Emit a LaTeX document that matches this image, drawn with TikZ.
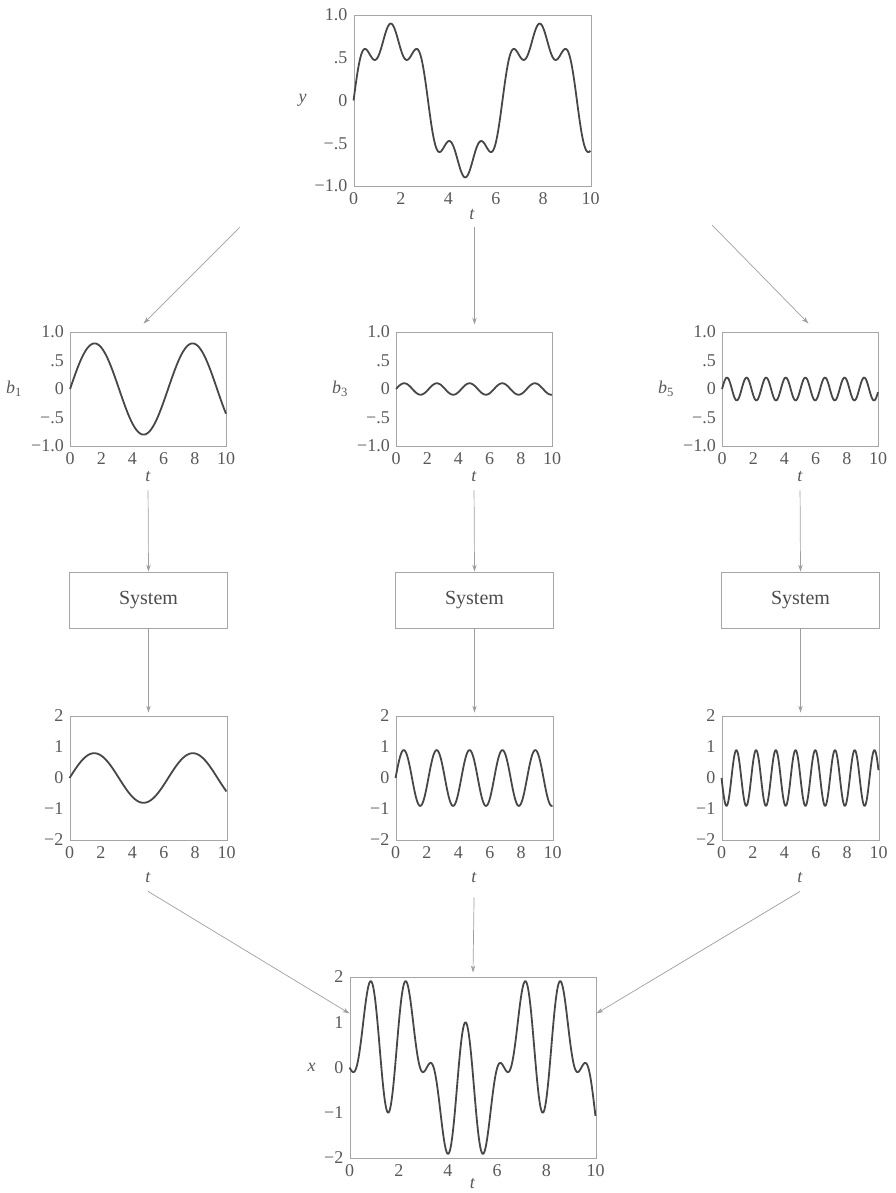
\documentclass[tikz,border=0pt]{standalone}
\usepackage{fontspec}
\setmainfont{Liberation Serif}
\usetikzlibrary{arrows.meta, positioning}

\begin{document}
\begin{tikzpicture}[x=1pt, y=-1pt,
  plotbox/.style={draw=gray!70, line width=0.9pt, inner sep=0pt},
  sysbox/.style={draw=gray!70, line width=0.9pt, minimum width=158pt, minimum height=56pt, text=black!70, font=\fontsize{20}{22}\selectfont},
  curve/.style={black!72, line width=1.8pt, line join=round},
  ticklbl/.style={text=black!65, inner sep=2pt, font=\fontsize{18}{20}\selectfont},
  conn/.style={-{Stealth[length=7pt, width=4.5pt]}, gray!75, line width=0.7pt}]

\useasboundingbox (0,0) rectangle (895,1193);

% input signal y
\node[plotbox, minimum width=237pt, minimum height=171pt] (pY) at (472.5,100.5) {};
\begin{scope}[shift={(pY.west)}, x=23.7pt, y=85.5pt]
  \draw[curve] plot[domain=0:10, samples=250] (\x,{0.8*sin(\x r)+0.1*sin(3*\x r)+0.2*sin(5*\x r)});
  \foreach \v in {0,2,...,10} \node[ticklbl, anchor=north, yshift=-4pt] at (\v,-1) {\v};
  \foreach \v/\s in {1/1.0, 0.5/.5, 0/0, -0.5/−.5, -1/−1.0} \node[ticklbl, anchor=east, xshift=-4pt] at (0,\v) {\s};
  \node[ticklbl] (tY) at (5,-1) [yshift=-29pt] {\textit{t}};
  \node[ticklbl] (lY) at (0,0) [xshift=-51pt] {\textit{y}};
\end{scope}

% harmonics b1, b3, b5
\foreach \k/\ampl/\cx in {1/0.8/148.5, 3/0.1/474.5, 5/0.2/800.5} {
  \node[plotbox, minimum width=156pt, minimum height=114pt] (pB\k) at (\cx,389) {};
  \begin{scope}[shift={(pB\k.west)}, x=15.6pt, y=57pt]
    \draw[curve] plot[domain=0:10, samples=250] (\x,{\ampl*sin(\k*\x r)});
    \foreach \v in {0,2,...,10} \node[ticklbl, anchor=north, yshift=-4pt] at (\v,-1) {\v};
    \foreach \v/\s in {1/1.0, 0.5/.5, 0/0, -0.5/−.5, -1/−1.0} \node[ticklbl, anchor=east, xshift=-4pt] at (0,\v) {\s};
    \node[ticklbl] (tB\k) at (5,-1) [yshift=-31pt] {\textit{t}};
    \node[ticklbl] (lB\k) at (0,0) [xshift=-56pt] {\textit{b}\textsubscript{\k}};
  \end{scope}
}

% systems
\foreach \k/\cx in {1/148.5, 3/474.5, 5/800.5}
  \node[sysbox] (sys\k) at (\cx,600) {System};

% outputs
\foreach \k/\ampl/\cx in {1/0.8/148.5, 3/0.9/474.5, 5/-0.9/800.5} {
  \node[plotbox, minimum width=157pt, minimum height=124pt] (pX\k) at (\cx,778) {};
  \begin{scope}[shift={(pX\k.west)}, x=15.7pt, y=31pt]
    \draw[curve] plot[domain=0:10, samples=250] (\x,{\ampl*sin(\k*\x r)});
    \foreach \v in {0,2,...,10} \node[ticklbl, anchor=north, yshift=-4pt] at (\v,-2) {\v};
    \foreach \v/\s in {2/2, 1/1, 0/0, -1/−1, -2/−2} \node[ticklbl, anchor=east, xshift=-4pt] at (0,\v) {\s};
    \node[ticklbl] (tX\k) at (5,-2) [yshift=-38pt] {\textit{t}};
  \end{scope}
}

% sum x
\node[plotbox, minimum width=246pt, minimum height=181pt] (pX) at (473,1067.5) {};
\begin{scope}[shift={(pX.west)}, x=24.6pt, y=45.25pt]
  \draw[curve] plot[domain=0:10, samples=300] (\x,{0.8*sin(\x r)+0.9*sin(3*\x r)-0.9*sin(5*\x r)});
  \foreach \v in {0,2,...,10} \node[ticklbl, anchor=north, yshift=-4pt] at (\v,-2) {\v};
  \foreach \v/\s in {2/2, 1/1, 0/0, -1/−1, -2/−2} \node[ticklbl, anchor=east, xshift=-4pt] at (0,\v) {\s};
  \node[ticklbl] (tX) at (5,-2) [yshift=-26pt] {\textit{t}};
  \node[ticklbl] (lX) at (0,0) [xshift=-38pt] {\textit{x}};
\end{scope}

% connectors
\coordinate (sL) at (240,227);
\coordinate (sM) at (474.5,227);
\coordinate (sR) at (712,225);
\draw[conn] (sL) -- ([xshift=-5pt, yshift=8pt]pB1.north);
\draw[conn] (sM) -- ([yshift=7pt]pB3.north);
\draw[conn] (sR) -- ([xshift=8pt, yshift=8pt]pB5.north);

\foreach \k in {1,3,5} {
  \draw[conn] ([yshift=-6pt]tB\k.south) -- (sys\k.north);
  \draw[conn] (sys\k.south) -- ([yshift=3pt]pX\k.north);
}

\draw[conn] ([yshift=-6pt]tX1.south) -- ([yshift=54pt]pX.west);
\draw[conn] ([yshift=-12pt]tX3.south) -- ([yshift=4pt]pX.north);
\draw[conn] ([yshift=-6pt]tX5.south) -- ([yshift=54pt]pX.east);
\end{tikzpicture}
\end{document}
